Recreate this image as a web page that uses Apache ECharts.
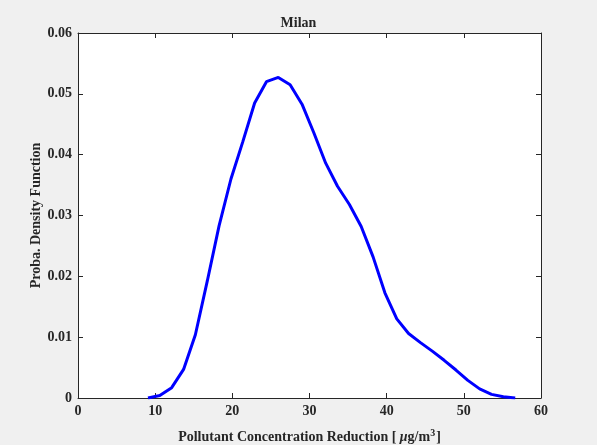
<!DOCTYPE html>
<html>
<head>
<meta charset="utf-8">
<script src="https://cdn.jsdelivr.net/npm/echarts@6/dist/echarts.min.js"></script>
<style>html,body{margin:0;padding:0;background:#f0f0f0;}#c{width:597px;height:445px;}</style>
</head>
<body>
<div id="c"></div>
<script>
var titleText = 'Milan';
var xValues = [9.07, 10.6, 12.14, 13.68, 15.21, 16.75, 18.28, 19.82, 21.35, 22.89, 24.42, 25.96, 27.49, 29.03, 30.56, 32.1, 33.63, 35.17, 36.7, 38.24, 39.77, 41.31, 42.84, 44.38, 45.91, 47.45, 48.98, 50.52, 52.05, 53.59, 55.12, 56.66];
var pdfValues = [0.0000, 0.0004, 0.0017, 0.0047, 0.0104, 0.0192, 0.0283, 0.0360, 0.0421, 0.0485, 0.0520, 0.0527, 0.0515, 0.0483, 0.0436, 0.0386, 0.0348, 0.0318, 0.0282, 0.0232, 0.0173, 0.0130, 0.0106, 0.0091, 0.0077, 0.0062, 0.0046, 0.0029, 0.0015, 0.0006, 0.0002, 0.0000];
var xTicks = [0, 10, 20, 30, 40, 50, 60];
var yTicks = [0, 0.01, 0.02, 0.03, 0.04, 0.05, 0.06];

var font = 'Liberation Serif';
var ink = '#262626';
var data = xValues.map(function (x, i) { return [x, pdfValues[i]]; });

var chart = echarts.init(document.getElementById('c'), null, {renderer: 'canvas'});
var axisCommon = {
  nameMoveOverlap: false,
  axisLine: {show: true, onZero: false, lineStyle: {color: ink, width: 1}},
  axisTick: {show: true, inside: true, length: 5, lineStyle: {color: ink, width: 1}},
  splitLine: {show: false}
};
chart.setOption({
  backgroundColor: '#f0f0f0',
  animation: false,
  title: {
    text: titleText, left: 'center', top: 11,
    textStyle: {fontFamily: font, fontWeight: 'bold', fontSize: 14, color: ink}
  },
  grid: {left: 78, top: 33, right: 56, bottom: 47, show: true, backgroundColor: '#ffffff', borderWidth: 0,
    containLabel: false, outerBoundsMode: 'none'},
  xAxis: [
    Object.assign({
      type: 'value', min: xTicks[0], max: xTicks[xTicks.length - 1], interval: 10, position: 'bottom',
      axisLabel: {fontFamily: font, fontWeight: 'bold', fontSize: 14, color: ink, margin: 6},
      name: '{b|Pollutant Concentration Reduction [ }{i|μ}{b|g/m}{s|3}{b|]}',
      nameLocation: 'middle', nameGap: 30,
      nameTextStyle: {
        rich: {
          b: {fontFamily: font, fontWeight: 'bold', fontSize: 14, color: ink},
          i: {fontFamily: font, fontWeight: 'bold', fontStyle: 'italic', fontSize: 14, color: ink},
          s: {fontFamily: font, fontWeight: 'bold', fontSize: 10, color: ink, padding: [0, 1, 8, 0]}
        }
      }
    }, axisCommon),
    Object.assign({
      type: 'value', min: xTicks[0], max: xTicks[xTicks.length - 1], interval: 10, position: 'top',
      axisLabel: {show: false}
    }, axisCommon)
  ],
  yAxis: [
    Object.assign({
      type: 'value', min: yTicks[0], max: yTicks[yTicks.length - 1], interval: 0.01, position: 'left',
      axisLabel: {fontFamily: font, fontWeight: 'bold', fontSize: 14, color: ink, margin: 6,
        formatter: function (v) { return v === 0 ? '0' : v.toFixed(2); }},
      name: 'Proba. Density Function', nameLocation: 'middle', nameGap: 35,
      nameTextStyle: {fontFamily: font, fontWeight: 'bold', fontSize: 14, color: ink}
    }, axisCommon),
    Object.assign({
      type: 'value', min: yTicks[0], max: yTicks[yTicks.length - 1], interval: 0.01, position: 'right',
      axisLabel: {show: false}
    }, axisCommon)
  ],
  series: [{
    type: 'line', data: data, xAxisIndex: 0, yAxisIndex: 0,
    showSymbol: false, symbol: 'none', smooth: false,
    lineStyle: {color: '#0000ff', width: 3}
  }]
});
</script>
</body>
</html>
